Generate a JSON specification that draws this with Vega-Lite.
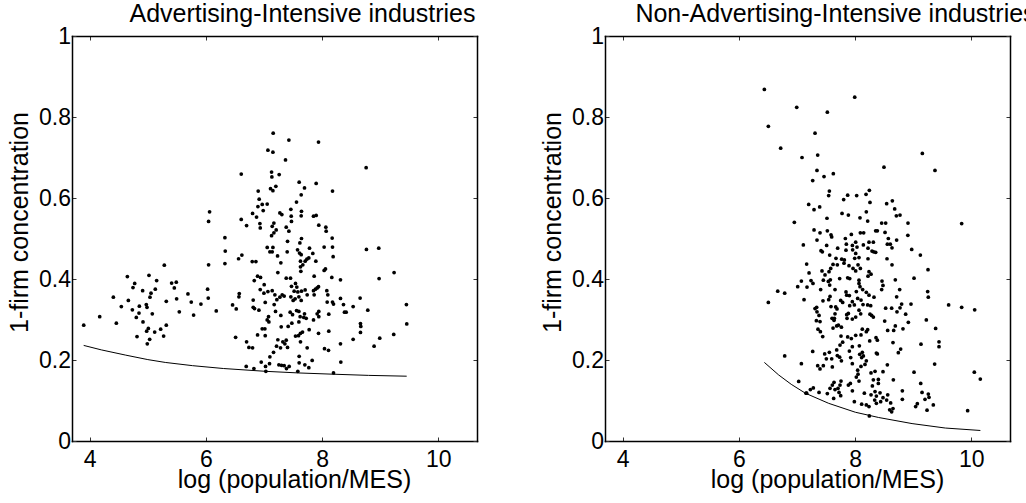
{
  "$schema": "https://vega.github.io/schema/vega-lite/v6.json",
  "padding": {"left": 7, "top": 2, "right": 0, "bottom": 0},
  "bounds": "flush",
  "spacing": 128,
  "config": {
    "font": "Liberation Sans",
    "view": {"stroke": null},
    "axis": {"grid": false, "domainColor": "black", "domainWidth": 1.5, "domainCap": "square", "tickColor": "#333", "tickWidth": 1, "tickSize": -4,
      "labelFont": "Liberation Sans", "labelFontSize": 23, "labelColor": "black", "titleFont": "Liberation Sans", "titleFontSize": 25, "titleFontWeight": "normal", "titleColor": "black"},
    "title": {"font": "Liberation Sans", "fontSize": 25, "fontWeight": "normal", "color": "black", "frame": "group", "anchor": "middle", "dx": 28, "baseline": "alphabetic", "offset": -2}
  },
  "datasets": {
    "adv": [
      {"x":3.897,"y":0.286},{"x":4.172,"y":0.307},{"x":4.407,"y":0.355},{"x":4.458,"y":0.291},{"x":4.544,"y":0.332},{"x":4.648,"y":0.406},{"x":4.665,"y":0.347},{"x":4.745,"y":0.379},{"x":4.774,"y":0.389},{"x":4.734,"y":0.324},{"x":4.802,"y":0.305},{"x":4.814,"y":0.258},{"x":4.854,"y":0.333},{"x":4.848,"y":0.316},{"x":4.911,"y":0.371},{"x":4.917,"y":0.294},{"x":4.974,"y":0.337},{"x":4.986,"y":0.330},{"x":4.98,"y":0.271},{"x":4.991,"y":0.240},{"x":5.009,"y":0.278},{"x":5.020,"y":0.409},{"x":5.032,"y":0.251},{"x":5.037,"y":0.355},{"x":5.055,"y":0.365},{"x":5.077,"y":0.314},{"x":5.118,"y":0.269},{"x":5.129,"y":0.375},{"x":5.152,"y":0.396},{"x":5.221,"y":0.276},{"x":5.272,"y":0.259},{"x":5.284,"y":0.434},{"x":5.318,"y":0.345},{"x":5.318,"y":0.286},{"x":5.41,"y":0.390},{"x":5.456,"y":0.378},{"x":5.49,"y":0.392},{"x":5.496,"y":0.351},{"x":5.542,"y":0.319},{"x":5.691,"y":0.363},{"x":5.748,"y":0.343},{"x":5.788,"y":0.311},{"x":5.914,"y":0.338},{"x":6.029,"y":0.375},{"x":6.04,"y":0.353},{"x":6.046,"y":0.435},{"x":6.046,"y":0.542},{"x":6.063,"y":0.566},{"x":6.178,"y":0.321},
      {"x":6.327,"y":0.502},{"x":6.333,"y":0.469},{"x":6.327,"y":0.438},{"x":6.459,"y":0.336},{"x":6.522,"y":0.326},{"x":6.511,"y":0.256},{"x":6.562,"y":0.450},{"x":6.619,"y":0.459},{"x":6.608,"y":0.659},{"x":6.574,"y":0.364},{"x":6.568,"y":0.356},{"x":6.608,"y":0.547},{"x":6.700,"y":0.532},{"x":6.700,"y":0.245},{"x":6.740,"y":0.231},{"x":6.803,"y":0.230},{"x":6.694,"y":0.184},{"x":6.826,"y":0.179},{"x":6.803,"y":0.562},{"x":6.797,"y":0.443},{"x":6.860,"y":0.443},{"x":6.814,"y":0.348},{"x":6.814,"y":0.330},{"x":6.837,"y":0.327},{"x":6.832,"y":0.396},{"x":6.889,"y":0.407},{"x":6.940,"y":0.404},{"x":6.889,"y":0.262},{"x":6.900,"y":0.617},{"x":6.917,"y":0.597},{"x":6.895,"y":0.579},{"x":6.969,"y":0.584},{"x":6.986,"y":0.569},{"x":7.055,"y":0.585},{"x":6.929,"y":0.537},{"x":6.935,"y":0.526},{"x":6.872,"y":0.553},{"x":6.912,"y":0.323},{"x":6.969,"y":0.277},{"x":7.015,"y":0.277},{"x":7.021,"y":0.260},{"x":6.952,"y":0.195},{"x":7.032,"y":0.172},{"x":7.026,"y":0.184},{"x":7.095,"y":0.191},{"x":6.935,"y":0.374},{"x":6.998,"y":0.365},{"x":7.067,"y":0.369},{"x":7.141,"y":0.371},{"x":7.003,"y":0.386},{"x":7.021,"y":0.342},{"x":7.078,"y":0.307},{"x":7.055,"y":0.299},{"x":7.084,"y":0.294},{"x":7.055,"y":0.478},{"x":7.101,"y":0.467},{"x":7.141,"y":0.467},{"x":7.153,"y":0.478},{"x":7.067,"y":0.718},{"x":7.153,"y":0.713},{"x":7.158,"y":0.760},{"x":7.130,"y":0.664},{"x":7.135,"y":0.652},{"x":7.112,"y":0.623},{"x":7.153,"y":0.618},{"x":7.204,"y":0.629},{"x":7.141,"y":0.530},{"x":7.170,"y":0.538},{"x":7.130,"y":0.507},{"x":7.170,"y":0.514},{"x":7.210,"y":0.521},{"x":7.187,"y":0.361},{"x":7.221,"y":0.349},{"x":7.175,"y":0.337},{"x":7.198,"y":0.320},{"x":7.101,"y":0.208},{"x":7.164,"y":0.219},{"x":7.216,"y":0.234},{"x":7.233,"y":0.457},{"x":7.238,"y":0.416},{"x":7.290,"y":0.440},{"x":7.261,"y":0.658},{"x":7.273,"y":0.563},{"x":7.307,"y":0.559},{"x":7.273,"y":0.355},{"x":7.313,"y":0.361},{"x":7.347,"y":0.358},{"x":7.290,"y":0.310},{"x":7.296,"y":0.282},{"x":7.238,"y":0.250},{"x":7.284,"y":0.230},{"x":7.324,"y":0.245},{"x":7.256,"y":0.188},{"x":7.302,"y":0.187},{"x":7.347,"y":0.186},{"x":7.387,"y":0.179},{"x":7.433,"y":0.184},{"x":7.405,"y":0.231},{"x":7.359,"y":0.240},{"x":7.382,"y":0.249},{"x":7.370,"y":0.694},{"x":7.399,"y":0.467},{"x":7.382,"y":0.402},{"x":7.405,"y":0.493},{"x":7.428,"y":0.518},{"x":7.382,"y":0.528},{"x":7.462,"y":0.572},{"x":7.468,"y":0.555},{"x":7.473,"y":0.542},{"x":7.416,"y":0.283},{"x":7.479,"y":0.291},{"x":7.456,"y":0.402},{"x":7.473,"y":0.382},{"x":7.542,"y":0.389},{"x":7.565,"y":0.380},{"x":7.519,"y":0.370},{"x":7.428,"y":0.743},{"x":7.450,"y":0.318},{"x":7.491,"y":0.312},{"x":7.560,"y":0.322},{"x":7.600,"y":0.320},{"x":7.622,"y":0.307},{"x":7.600,"y":0.294},{"x":7.462,"y":0.356},{"x":7.502,"y":0.347},{"x":7.536,"y":0.351},{"x":7.582,"y":0.368},{"x":7.559,"y":0.590},{"x":7.605,"y":0.639},{"x":7.640,"y":0.608},{"x":7.645,"y":0.567},{"x":7.640,"y":0.556},{"x":7.697,"y":0.625},{"x":7.577,"y":0.472},{"x":7.611,"y":0.464},{"x":7.645,"y":0.500},{"x":7.617,"y":0.489},{"x":7.640,"y":0.460},{"x":7.542,"y":0.259},{"x":7.594,"y":0.260},{"x":7.628,"y":0.266},{"x":7.663,"y":0.269},{"x":7.628,"y":0.245},{"x":7.605,"y":0.209},{"x":7.605,"y":0.193},{"x":7.582,"y":0.172},{"x":7.703,"y":0.188},{"x":7.771,"y":0.181},{"x":7.829,"y":0.199},{"x":7.628,"y":0.444},{"x":7.668,"y":0.435},{"x":7.708,"y":0.444},{"x":7.737,"y":0.449},{"x":7.771,"y":0.452},{"x":7.634,"y":0.419},{"x":7.628,"y":0.430},{"x":7.600,"y":0.356},{"x":7.640,"y":0.347},{"x":7.645,"y":0.370},{"x":7.708,"y":0.373},{"x":7.743,"y":0.361},{"x":7.685,"y":0.305},{"x":7.726,"y":0.303},{"x":7.697,"y":0.314},{"x":7.777,"y":0.275},{"x":7.743,"y":0.230},{"x":7.783,"y":0.476},{"x":7.840,"y":0.463},{"x":7.863,"y":0.407},{"x":7.892,"y":0.444},{"x":7.852,"y":0.371},{"x":7.886,"y":0.375},{"x":7.915,"y":0.378},{"x":7.938,"y":0.381},{"x":7.863,"y":0.361},{"x":7.852,"y":0.299},{"x":7.943,"y":0.320},{"x":7.915,"y":0.314},{"x":7.943,"y":0.307},{"x":7.938,"y":0.266},{"x":7.852,"y":0.555},{"x":7.898,"y":0.557},{"x":7.898,"y":0.636},{"x":7.943,"y":0.533},{"x":7.938,"y":0.738},{"x":8.035,"y":0.479},{"x":8.058,"y":0.425},{"x":8.035,"y":0.421},{"x":8.070,"y":0.518},{"x":8.064,"y":0.528},{"x":8.179,"y":0.617},{"x":8.041,"y":0.228},{"x":8.110,"y":0.224},{"x":8.115,"y":0.271},{"x":8.081,"y":0.371},{"x":8.098,"y":0.361},{"x":8.087,"y":0.343},{"x":8.115,"y":0.313},{"x":8.179,"y":0.343},{"x":8.196,"y":0.338},{"x":8.173,"y":0.501},{"x":8.190,"y":0.455},{"x":8.179,"y":0.479},{"x":8.167,"y":0.404},{"x":8.196,"y":0.168},{"x":8.322,"y":0.195},{"x":8.316,"y":0.240},{"x":8.316,"y":0.398},{"x":8.316,"y":0.352},{"x":8.368,"y":0.337},{"x":8.385,"y":0.318},{"x":8.414,"y":0.318},{"x":8.534,"y":0.332},{"x":8.654,"y":0.353},{"x":8.534,"y":0.251},{"x":8.660,"y":0.290},{"x":8.660,"y":0.268},{"x":8.666,"y":0.283},{"x":8.758,"y":0.675},{"x":8.763,"y":0.473},{"x":8.786,"y":0.323},{"x":8.975,"y":0.476},{"x":8.981,"y":0.401},{"x":8.992,"y":0.254},{"x":8.895,"y":0.234},{"x":9.239,"y":0.416},{"x":9.233,"y":0.263},{"x":9.451,"y":0.337},{"x":9.457,"y":0.289}
    ],
    "adv_bound": [
      {"x":3.896,"y":0.236},{"x":4.2,"y":0.225},{"x":4.62,"y":0.212},{"x":5.0,"y":0.201},{"x":5.3,"y":0.194},{"x":5.77,"y":0.186},{"x":6.3,"y":0.179},{"x":7.03,"y":0.172},{"x":7.6,"y":0.168},{"x":8.18,"y":0.165},{"x":8.8,"y":0.162},{"x":9.456,"y":0.160}
    ],
    "non": [
      {"x":6.438,"y":0.868},{"x":6.507,"y":0.777},{"x":6.995,"y":0.824},{"x":7.522,"y":0.812},{"x":7.993,"y":0.849},{"x":6.719,"y":0.723},{"x":7.310,"y":0.760},{"x":7.086,"y":0.700},{"x":7.356,"y":0.706},{"x":6.507,"y":0.342},{"x":6.668,"y":0.370},{"x":6.788,"y":0.365},{"x":6.788,"y":0.210},
      {"x":9.157,"y":0.710},{"x":8.497,"y":0.676},{"x":9.375,"y":0.668},{"x":7.344,"y":0.668},{"x":7.465,"y":0.653},{"x":7.625,"y":0.660},{"x":7.270,"y":0.643},{"x":7.557,"y":0.617},{"x":7.545,"y":0.606},{"x":7.872,"y":0.607},{"x":8.027,"y":0.606},{"x":7.803,"y":0.596},{"x":8.188,"y":0.609},{"x":8.245,"y":0.619},{"x":7.201,"y":0.584},{"x":7.293,"y":0.571},{"x":7.390,"y":0.578},{"x":8.256,"y":0.589},{"x":8.543,"y":0.586},{"x":8.641,"y":0.593},{"x":8.681,"y":0.573},{"x":7.775,"y":0.562},{"x":7.884,"y":0.558},{"x":8.084,"y":0.551},{"x":8.193,"y":0.566},{"x":7.516,"y":0.550},{"x":6.954,"y":0.540},{"x":8.216,"y":0.543},{"x":8.457,"y":0.538},{"x":8.526,"y":0.538},{"x":8.710,"y":0.556},{"x":8.773,"y":0.558},{"x":8.910,"y":0.538},{"x":9.834,"y":0.537},
      {"x":7.293,"y":0.521},{"x":7.396,"y":0.514},{"x":7.522,"y":0.519},{"x":7.585,"y":0.509},{"x":7.597,"y":0.504},{"x":7.344,"y":0.496},{"x":7.510,"y":0.483},{"x":7.413,"y":0.470},{"x":7.436,"y":0.467},{"x":7.562,"y":0.459},
      {"x":7.832,"y":0.500},{"x":7.935,"y":0.510},{"x":8.010,"y":0.491},{"x":8.090,"y":0.514},{"x":8.147,"y":0.514},{"x":7.849,"y":0.486},{"x":7.953,"y":0.483},{"x":8.033,"y":0.479},{"x":8.142,"y":0.484},{"x":8.239,"y":0.491},{"x":8.314,"y":0.491},{"x":8.354,"y":0.519},{"x":8.383,"y":0.519},{"x":8.515,"y":0.515},{"x":8.572,"y":0.500},{"x":8.555,"y":0.486},{"x":8.606,"y":0.486},{"x":8.715,"y":0.496},{"x":8.635,"y":0.477},{"x":8.908,"y":0.508},{"x":7.109,"y":0.484},
      {"x":7.700,"y":0.476},{"x":7.843,"y":0.471},{"x":7.958,"y":0.472},{"x":8.010,"y":0.463},{"x":7.993,"y":0.451},{"x":8.067,"y":0.453},{"x":8.222,"y":0.476},{"x":8.291,"y":0.469},{"x":8.320,"y":0.467},{"x":8.222,"y":0.450},{"x":8.354,"y":0.466},{"x":8.974,"y":0.473},{"x":9.123,"y":0.459},
      {"x":7.671,"y":0.451},{"x":7.769,"y":0.449},{"x":7.815,"y":0.447},{"x":7.809,"y":0.439},{"x":8.549,"y":0.450},{"x":8.635,"y":0.435},{"x":8.692,"y":0.398},{"x":7.166,"y":0.437},{"x":7.207,"y":0.415},{"x":7.620,"y":0.436},{"x":7.580,"y":0.426},{"x":7.551,"y":0.418},{"x":7.694,"y":0.435},{"x":7.895,"y":0.433},{"x":7.964,"y":0.426},{"x":8.050,"y":0.435},{"x":8.090,"y":0.426},{"x":8.010,"y":0.420},{"x":8.239,"y":0.418},{"x":8.274,"y":0.412},{"x":8.222,"y":0.407},{"x":7.430,"y":0.420},{"x":7.482,"y":0.410},{"x":7.453,"y":0.397},{"x":7.075,"y":0.395},{"x":7.241,"y":0.396},{"x":7.275,"y":0.389},{"x":7.172,"y":0.380},{"x":7.407,"y":0.374},{"x":7.012,"y":0.381},{"x":7.121,"y":0.349},
      {"x":7.539,"y":0.394},{"x":7.574,"y":0.398},{"x":7.562,"y":0.385},{"x":7.654,"y":0.374},{"x":7.568,"y":0.357},{"x":7.734,"y":0.401},{"x":7.872,"y":0.403},{"x":7.907,"y":0.401},{"x":8.067,"y":0.397},{"x":8.067,"y":0.389},{"x":8.084,"y":0.381},{"x":8.130,"y":0.374},{"x":8.021,"y":0.369},{"x":7.901,"y":0.359},{"x":7.855,"y":0.360},{"x":8.193,"y":0.367},{"x":8.239,"y":0.360},{"x":8.325,"y":0.355},{"x":8.463,"y":0.395},{"x":8.480,"y":0.384},{"x":8.457,"y":0.374},{"x":8.715,"y":0.356},{"x":8.767,"y":0.374},{"x":9.014,"y":0.402},{"x":9.255,"y":0.423},{"x":9.249,"y":0.369},{"x":9.260,"y":0.355},{"x":9.610,"y":0.336},{"x":9.834,"y":0.330},{"x":10.058,"y":0.324},
      {"x":7.447,"y":0.346},{"x":7.545,"y":0.349},{"x":7.585,"y":0.332},{"x":7.338,"y":0.330},{"x":7.310,"y":0.327},{"x":7.379,"y":0.310},{"x":7.344,"y":0.319},{"x":7.666,"y":0.331},{"x":7.688,"y":0.326},{"x":7.654,"y":0.314},{"x":7.643,"y":0.303},{"x":7.752,"y":0.347},{"x":7.786,"y":0.342},{"x":7.843,"y":0.368},{"x":7.952,"y":0.344},{"x":7.987,"y":0.336},{"x":7.907,"y":0.334},{"x":7.855,"y":0.312},{"x":8.044,"y":0.352},{"x":8.102,"y":0.348},{"x":8.136,"y":0.337},{"x":8.067,"y":0.323},{"x":8.096,"y":0.314},{"x":8.010,"y":0.306},{"x":7.952,"y":0.301},{"x":7.884,"y":0.315},{"x":8.216,"y":0.336},{"x":8.268,"y":0.334},{"x":8.256,"y":0.313},{"x":8.314,"y":0.306},{"x":8.285,"y":0.310},{"x":8.526,"y":0.328},{"x":8.629,"y":0.328},{"x":8.721,"y":0.319},{"x":8.773,"y":0.329},{"x":8.801,"y":0.338},{"x":8.962,"y":0.338},{"x":8.870,"y":0.313},
      {"x":8.509,"y":0.296},{"x":8.560,"y":0.273},{"x":8.692,"y":0.284},{"x":8.664,"y":0.273},{"x":8.824,"y":0.277},{"x":8.916,"y":0.293},{"x":9.226,"y":0.299},{"x":9.386,"y":0.278},{"x":9.444,"y":0.245},{"x":9.444,"y":0.233},{"x":9.134,"y":0.239},
      {"x":7.333,"y":0.297},{"x":7.396,"y":0.295},{"x":7.361,"y":0.276},{"x":7.603,"y":0.303},{"x":7.637,"y":0.298},{"x":7.620,"y":0.279},{"x":7.683,"y":0.284},{"x":7.712,"y":0.286},{"x":7.764,"y":0.281},{"x":7.442,"y":0.258},{"x":7.402,"y":0.270},{"x":7.757,"y":0.259},{"x":7.786,"y":0.244},{"x":7.872,"y":0.257},{"x":7.935,"y":0.253},{"x":8.010,"y":0.261},{"x":8.073,"y":0.235},{"x":7.861,"y":0.303},{"x":8.124,"y":0.276},{"x":8.193,"y":0.270},{"x":8.216,"y":0.275},{"x":8.101,"y":0.262},{"x":8.251,"y":0.247},{"x":8.360,"y":0.255},{"x":8.383,"y":0.249},{"x":8.652,"y":0.243},{"x":8.744,"y":0.218},{"x":8.784,"y":0.227},
      {"x":7.270,"y":0.221},{"x":7.075,"y":0.191},{"x":7.476,"y":0.215},{"x":7.557,"y":0.219},{"x":7.505,"y":0.203},{"x":7.597,"y":0.203},{"x":7.356,"y":0.186},{"x":7.396,"y":0.178},{"x":7.453,"y":0.186},{"x":7.608,"y":0.183},{"x":7.694,"y":0.211},{"x":7.734,"y":0.207},{"x":7.764,"y":0.198},{"x":7.683,"y":0.225},{"x":7.740,"y":0.237},{"x":7.901,"y":0.222},{"x":7.952,"y":0.233},{"x":8.079,"y":0.214},{"x":8.113,"y":0.206},{"x":8.142,"y":0.210},{"x":8.124,"y":0.219},{"x":8.101,"y":0.184},{"x":8.044,"y":0.175},{"x":7.952,"y":0.191},{"x":7.924,"y":0.206},{"x":8.193,"y":0.198},{"x":8.170,"y":0.189},{"x":8.366,"y":0.217},{"x":8.383,"y":0.215},{"x":8.555,"y":0.188},{"x":8.480,"y":0.171},{"x":8.274,"y":0.168},{"x":8.343,"y":0.172},{"x":8.658,"y":0.151},{"x":8.813,"y":0.124},{"x":8.813,"y":0.103},{"x":9.014,"y":0.170},{"x":9.129,"y":0.142},{"x":9.260,"y":0.116},{"x":9.272,"y":0.108},{"x":9.369,"y":0.190},{"x":10.052,"y":0.170},{"x":10.155,"y":0.153},{"x":9.937,"y":0.075},
      {"x":7.029,"y":0.147},{"x":7.230,"y":0.127},{"x":7.281,"y":0.131},{"x":7.166,"y":0.118},{"x":7.379,"y":0.120},{"x":7.522,"y":0.117},{"x":7.568,"y":0.130},{"x":7.608,"y":0.138},{"x":7.637,"y":0.145},{"x":7.654,"y":0.127},{"x":7.706,"y":0.130},{"x":7.740,"y":0.138},{"x":7.757,"y":0.148},{"x":7.723,"y":0.120},{"x":7.752,"y":0.112},{"x":7.631,"y":0.105},{"x":7.884,"y":0.138},{"x":7.918,"y":0.142},{"x":7.953,"y":0.124},{"x":8.021,"y":0.158},{"x":8.050,"y":0.165},{"x":8.067,"y":0.148},{"x":7.987,"y":0.097},{"x":8.113,"y":0.091},{"x":8.193,"y":0.089},{"x":8.239,"y":0.085},{"x":8.159,"y":0.118},{"x":8.314,"y":0.151},{"x":8.297,"y":0.136},{"x":8.400,"y":0.152},{"x":8.400,"y":0.142},{"x":8.274,"y":0.114},{"x":8.343,"y":0.122},{"x":8.366,"y":0.111},{"x":8.429,"y":0.119},{"x":8.480,"y":0.107},{"x":8.337,"y":0.101},{"x":8.366,"y":0.093},{"x":8.440,"y":0.097},{"x":8.543,"y":0.101},{"x":8.595,"y":0.077},{"x":8.629,"y":0.072},{"x":8.652,"y":0.080},{"x":8.612,"y":0.094},{"x":8.561,"y":0.114},{"x":8.245,"y":0.062},{"x":7.155,"y":0.118},{"x":9.071,"y":0.092},{"x":9.042,"y":0.085},{"x":9.203,"y":0.103},{"x":9.238,"y":0.076},{"x":9.346,"y":0.089},{"x":9.152,"y":0.120}
    ],
    "non_bound": [
      {"x":6.438,"y":0.194},{"x":6.685,"y":0.163},{"x":6.9,"y":0.140},{"x":7.144,"y":0.118},{"x":7.545,"y":0.093},{"x":8.004,"y":0.071},{"x":8.406,"y":0.058},{"x":8.98,"y":0.043},{"x":9.553,"y":0.032},{"x":10.156,"y":0.026}
    ]
  },
  "hconcat": [
    {
      "title": {"text": "Advertising-Intensive industries"},
      "width": 405, "height": 405,
      "layer": [
        {
          "data": {"name": "adv"},
          "mark": {"type": "circle", "size": 14, "color": "black", "opacity": 1},
          "encoding": {
            "x": {"field": "x", "type": "quantitative", "scale": {"domain": [3.695, 10.666], "nice": false, "zero": false},
              "axis": {"orient": "bottom", "values": [4, 6, 8, 10], "title": "log (population/MES)", "labelPadding": 11, "titleX": 222, "titleY": 46.3, "titleBaseline": "alphabetic", "titleAlign": "center"}},
            "y": {"field": "y", "type": "quantitative", "scale": {"domain": [0, 1], "nice": false, "zero": false},
              "axis": {"orient": "left", "values": [0, 0.2, 0.4, 0.6, 0.8, 1], "format": "~g", "title": "1-firm concentration", "labelPadding": 5.5, "titleX": -44.7, "titleY": 186, "titleBaseline": "alphabetic", "titleAlign": "center", "titleAngle": -90}}
          }
        },
        {
          "data": {"name": "adv_bound"},
          "mark": {"type": "line", "color": "black", "strokeWidth": 1},
          "encoding": {
            "x": {"field": "x", "type": "quantitative", "scale": {"domain": [3.695, 10.666], "nice": false, "zero": false},
              "axis": {"orient": "top", "values": [4, 6, 8, 10], "labels": false, "title": null}},
            "y": {"field": "y", "type": "quantitative", "scale": {"domain": [0, 1], "nice": false, "zero": false},
              "axis": {"orient": "right", "values": [0, 0.2, 0.4, 0.6, 0.8, 1], "labels": false, "title": null}}
          }
        }
      ],
      "resolve": {"axis": {"x": "independent", "y": "independent"}}
    },
    {
      "title": {"text": "Non-Advertising-Intensive industries"},
      "width": 405, "height": 405,
      "layer": [
        {
          "data": {"name": "non"},
          "mark": {"type": "circle", "size": 14, "color": "black", "opacity": 1},
          "encoding": {
            "x": {"field": "x", "type": "quantitative", "scale": {"domain": [3.695, 10.666], "nice": false, "zero": false},
              "axis": {"orient": "bottom", "values": [4, 6, 8, 10], "title": "log (population/MES)", "labelPadding": 11, "titleX": 222, "titleY": 46.3, "titleBaseline": "alphabetic", "titleAlign": "center"}},
            "y": {"field": "y", "type": "quantitative", "scale": {"domain": [0, 1], "nice": false, "zero": false},
              "axis": {"orient": "left", "values": [0, 0.2, 0.4, 0.6, 0.8, 1], "format": "~g", "title": "1-firm concentration", "labelPadding": 5.5, "titleX": -44.7, "titleY": 186, "titleBaseline": "alphabetic", "titleAlign": "center", "titleAngle": -90}}
          }
        },
        {
          "data": {"name": "non_bound"},
          "mark": {"type": "line", "color": "black", "strokeWidth": 1},
          "encoding": {
            "x": {"field": "x", "type": "quantitative", "scale": {"domain": [3.695, 10.666], "nice": false, "zero": false},
              "axis": {"orient": "top", "values": [4, 6, 8, 10], "labels": false, "title": null}},
            "y": {"field": "y", "type": "quantitative", "scale": {"domain": [0, 1], "nice": false, "zero": false},
              "axis": {"orient": "right", "values": [0, 0.2, 0.4, 0.6, 0.8, 1], "labels": false, "title": null}}
          }
        }
      ],
      "resolve": {"axis": {"x": "independent", "y": "independent"}}
    }
  ]
}
